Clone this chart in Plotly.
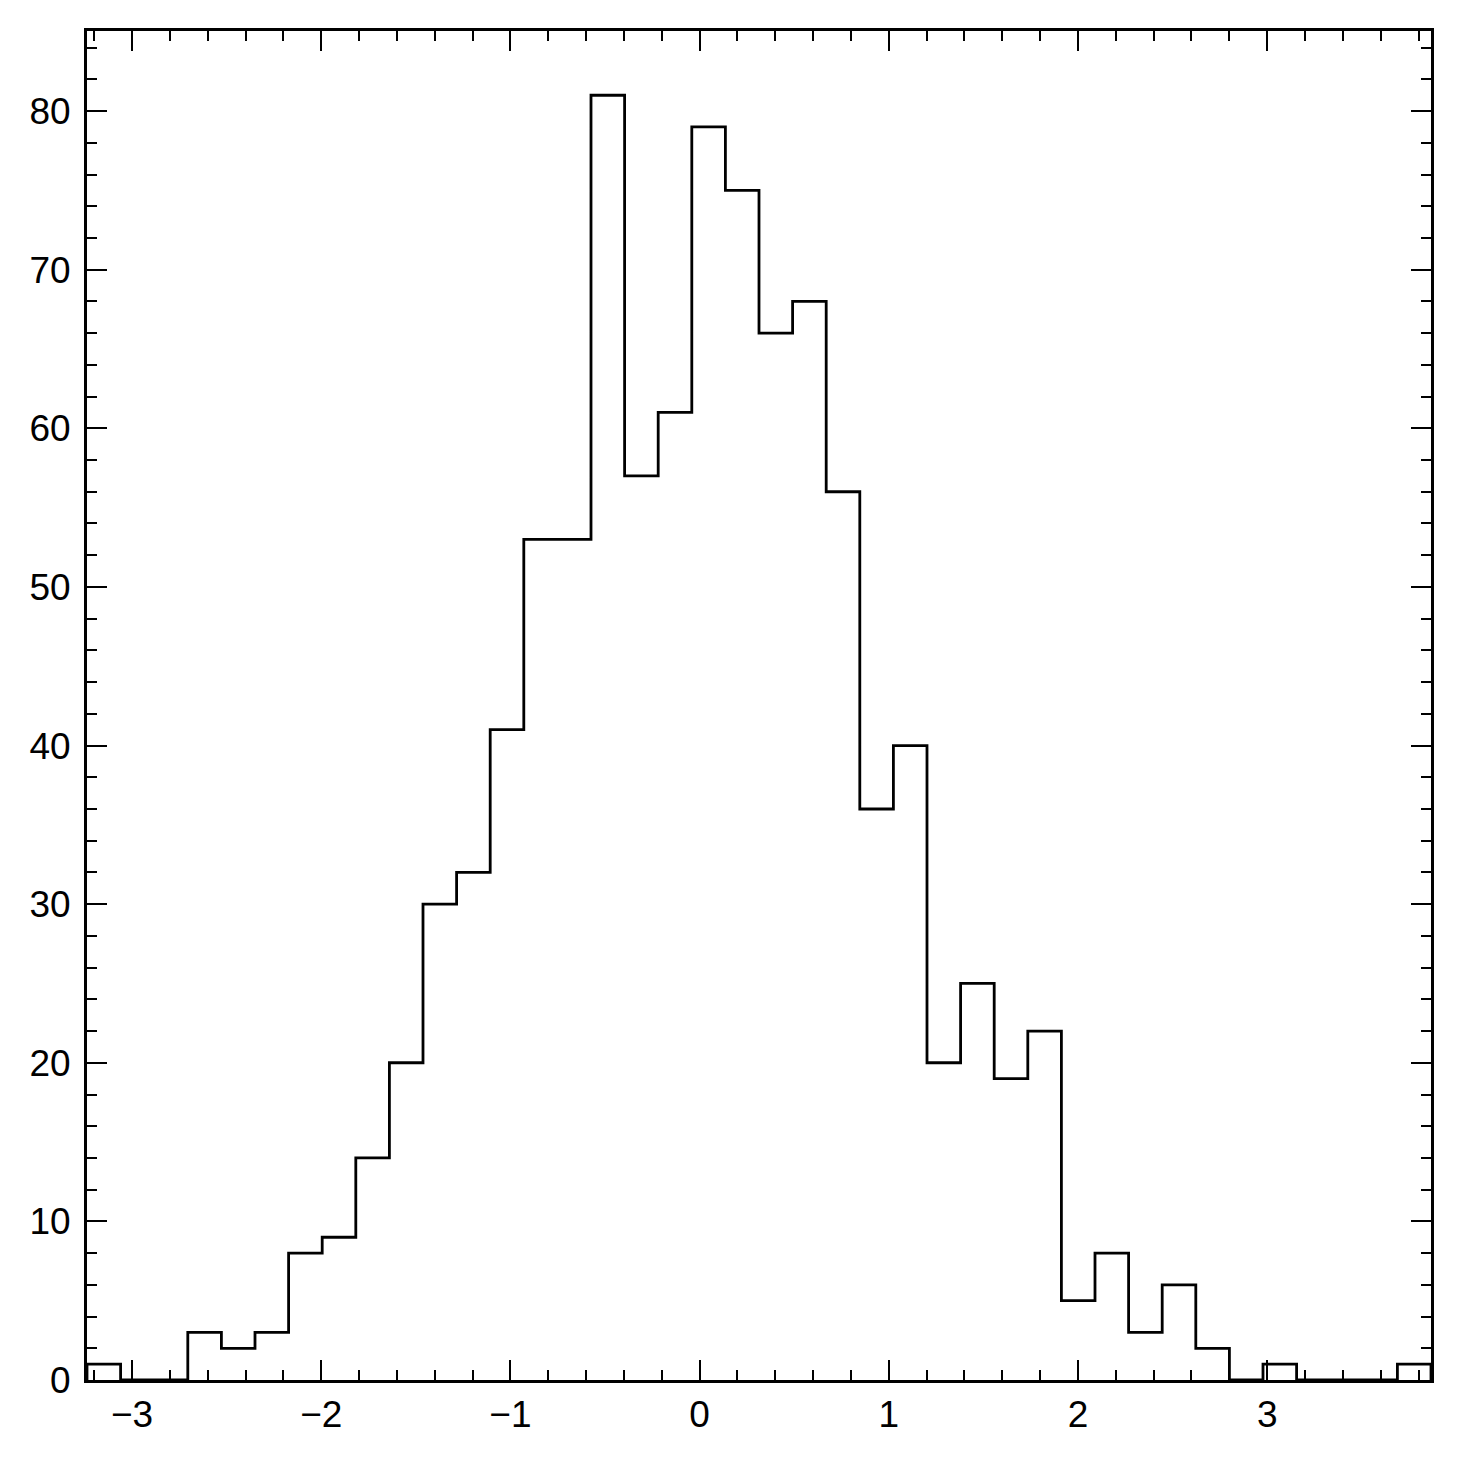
import numpy as np
import plotly.graph_objects as go

# Histogram data (40 bins)
bin_lo = -3.238
bin_hi = 3.866
n_bins = 40
counts = [1, 0, 0, 3, 2, 3, 8, 9, 14, 20,
          30, 32, 41, 53, 53, 81, 57, 61, 79, 75,
          66, 68, 56, 36, 40, 20, 25, 19, 22, 5,
          8, 3, 6, 2, 0, 1, 0, 0, 0, 1]

x_tickvals = [-3, -2, -1, 0, 1, 2, 3]
y_tickvals = [0, 10, 20, 30, 40, 50, 60, 70, 80]

edges = np.linspace(bin_lo, bin_hi, n_bins + 1)
xs = [edges[0]] + list(edges[:-1]) + [edges[-1], edges[-1]]
ys = [0] + list(counts) + [counts[-1], 0]

fig = go.Figure()
fig.add_trace(go.Scatter(
    x=xs, y=ys, mode="lines", line=dict(shape="hv", color="black", width=2.8),
    showlegend=False, hoverinfo="skip", cliponaxis=False,
))

font = dict(family="Liberation Sans, Arial, Helvetica, sans-serif", size=37, color="black")
axis_common = dict(
    showgrid=False, zeroline=False, showline=True, linecolor="black", linewidth=3,
    mirror="allticks", ticks="inside", ticklen=20, tickwidth=1.8, tickcolor="black",
    tickfont=font,
)
fig.update_xaxes(
    range=[bin_lo, bin_hi], tickvals=x_tickvals,
    ticktext=[("\u2212" + str(-v)) if v < 0 else str(v) for v in x_tickvals],
    minor=dict(dtick=0.2, tick0=0, ticks="inside", ticklen=10, tickwidth=1.8, tickcolor="black", showgrid=False),
    **axis_common,
)
fig.update_yaxes(
    range=[0, max(counts) * 1.05], tickvals=y_tickvals, ticklabelstandoff=6,
    minor=dict(dtick=2, tick0=0, ticks="inside", ticklen=10, tickwidth=1.8, tickcolor="black", showgrid=False),
    **axis_common,
)
fig.update_layout(
    width=1445, height=1445,
    margin=dict(l=79, r=22, t=23, b=73),
    plot_bgcolor="white", paper_bgcolor="white",
    font=font,
)
fig.write_html("out.html")
